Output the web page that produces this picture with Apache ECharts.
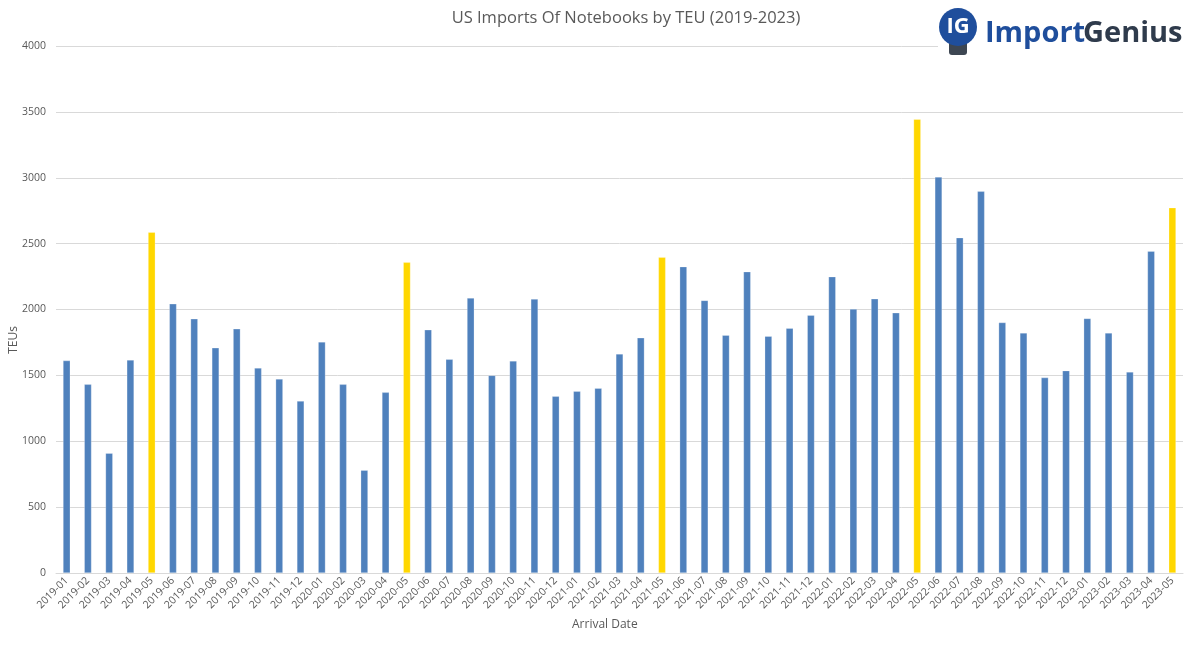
<!DOCTYPE html>
<html>
<head>
<meta charset="utf-8">
<script src="https://cdn.jsdelivr.net/npm/echarts@6/dist/echarts.min.js"></script>
<style>html,body{margin:0;padding:0;background:#fff}#c{width:1200px;height:647px}</style>
</head>
<body>
<div id="c"></div>
<script>
const categories = ["2019-01","2019-02","2019-03","2019-04","2019-05","2019-06","2019-07","2019-08","2019-09","2019-10","2019-11","2019-12",
"2020-01","2020-02","2020-03","2020-04","2020-05","2020-06","2020-07","2020-08","2020-09","2020-10","2020-11","2020-12",
"2021-01","2021-02","2021-03","2021-04","2021-05","2021-06","2021-07","2021-08","2021-09","2021-10","2021-11","2021-12",
"2022-01","2022-02","2022-03","2022-04","2022-05","2022-06","2022-07","2022-08","2022-09","2022-10","2022-11","2022-12",
"2023-01","2023-02","2023-03","2023-04","2023-05"];
const teus = [1612,1432,909,1617,2586,2043,1929,1709,1853,1556,1473,1305,
1754,1432,780,1371,2358,1846,1622,2087,1500,1610,2079,1341,
1379,1402,1663,1785,2396,2325,2069,1805,2287,1797,1858,1957,
2249,2003,2081,1975,3444,3006,2545,2897,1901,1822,1483,1536,
1932,1822,1526,2443,2773];
const highlightMonths = ["2019-05","2020-05","2021-05","2022-05","2023-05"];
const yTicks = [0,500,1000,1500,2000,2500,3000,3500,4000];
const titleText = "US Imports Of Notebooks by TEU (2019-2023)";
const xName = "Arrival Date";
const yName = "TEUs";

const BLUE = "#4f81bd", GOLD = "#ffd700";
const font = "'Open Sans', 'Noto Sans', sans-serif";
const chart = echarts.init(document.getElementById('c'));
chart.setOption({
  animation: false,
  backgroundColor: '#fff',
  title: { text: titleText, left: 621, top: 5, textAlign: 'center',
    textStyle: { fontFamily: font, fontSize: 16.5, fontWeight: 'normal', color: '#595959' } },
  grid: { left: 56, right: 17, top: 46, bottom: 74, containLabel: false },
  xAxis: {
    type: 'category', data: categories,
    axisLine: { lineStyle: { color: '#d9d9d9', width: 1 } },
    axisTick: { show: false },
    axisLabel: { rotate: 45, interval: 0, fontFamily: font, fontSize: 10.5, color: '#595959', margin: 6 }
  },
  yAxis: {
    type: 'value', min: yTicks[0], max: yTicks[yTicks.length-1], interval: 500,
    axisLine: { show: false }, axisTick: { show: false },
    axisLabel: { fontFamily: font, fontSize: 10.5, color: '#595959', margin: 10, formatter: v => String(v) },
    splitLine: { lineStyle: { color: '#d9d9d9', width: 1 } }
  },
  series: [{
    type: 'bar', barWidth: '34%',
    data: teus.map((v, i) => ({ value: v,
      itemStyle: { color: highlightMonths.includes(categories[i]) ? GOLD : BLUE } })),
    itemStyle: { borderColor: 'rgba(255,255,255,0.5)', borderWidth: 0.5 }
  }],
  graphic: [
    { type: 'text', left: 572, top: 619, style: { text: xName, font: "12px " + font, fill: '#595959' } },
    { type: 'text', x: 14, y: 340, rotation: Math.PI/2, style: { text: yName, font: "12px " + font, fill: '#595959', align: 'center', verticalAlign: 'middle' } },
    { type: 'rect', shape: { x: 938, y: 0, width: 262, height: 57 }, style: { fill: '#fff' }, z: 50 },
    { type: 'rect', shape: { x: 949, y: 40, width: 18, height: 15, r: 3 }, style: { fill: '#3d4652' }, z: 51 },
    { type: 'circle', shape: { cx: 958, cy: 27, r: 19 }, style: { fill: '#1f4e9c' }, z: 52 },
    { type: 'text', x: 958, y: 27, z: 53, style: { text: 'IG', font: "bold 22px 'Open Sans', sans-serif", fill: '#fff', align: 'center', verticalAlign: 'middle' } },
    { type: 'text', x: 985, y: 34, z: 53, style: { text: 'Import', font: "bold 29px 'Open Sans', sans-serif", fill: '#1f4e9c', verticalAlign: 'middle' } },
    { type: 'text', x: 1083, y: 34, z: 53, style: { text: 'Genius', font: "bold 29px 'Open Sans', sans-serif", fill: '#2f3b4c', verticalAlign: 'middle' } }
  ]
});
</script>
</body>
</html>
